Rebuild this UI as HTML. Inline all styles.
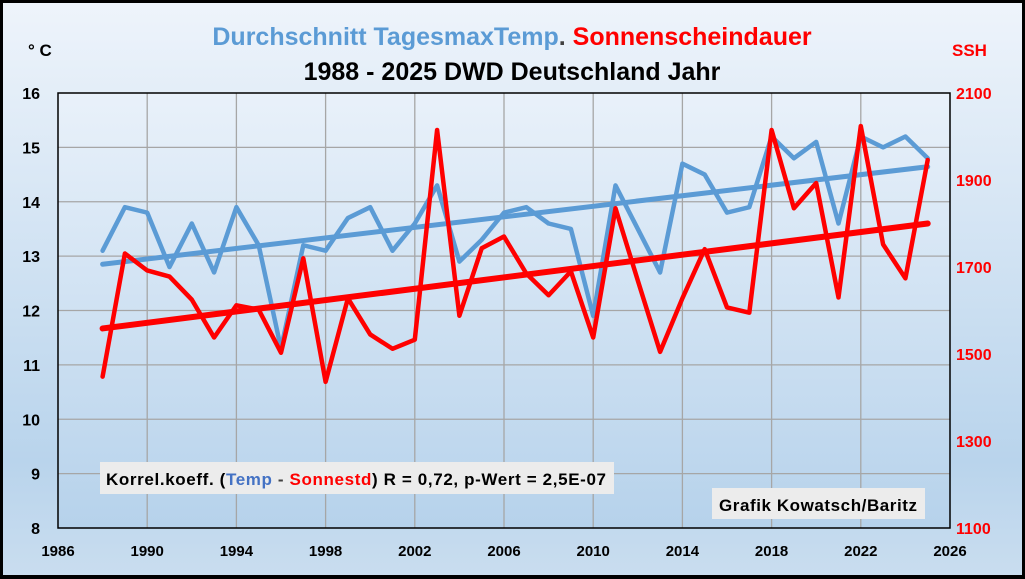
<!DOCTYPE html>
<html><head><meta charset="utf-8"><style>
html,body{margin:0;padding:0;width:1025px;height:579px;overflow:hidden;background:#000}
svg{display:block}
text{font-family:"Liberation Sans Narrow","Liberation Sans",sans-serif;font-weight:bold}
</style></head><body>
<svg id="chart" width="1025" height="579" viewBox="0 0 1025 579">
<defs>
<linearGradient id="outer" x1="0" y1="0" x2="0" y2="1"><stop offset="0" stop-color="#eef4fb"/><stop offset="0.8" stop-color="#b9d4ec"/><stop offset="1" stop-color="#c9ddef"/></linearGradient>
<linearGradient id="plot" x1="0" y1="0" x2="0" y2="1"><stop offset="0" stop-color="#e9f1fa"/><stop offset="1" stop-color="#b6d2eb"/></linearGradient>
</defs>
<rect x="3" y="3" width="1019" height="572" fill="url(#outer)"/>
<rect x="58" y="93" width="892" height="435" fill="url(#plot)"/>
<g id="grid"></g>
<rect x="58" y="93" width="892" height="435" fill="none" stroke="#000" stroke-width="1.5"/>
<g id="axes"></g>
<g id="series"></g>
<text x="512" y="45" text-anchor="middle" font-size="25"><tspan fill="#5b9bd5">Durchschnitt TagesmaxTemp</tspan><tspan fill="#404040">. </tspan><tspan fill="#ff0000">Sonnenscheindauer</tspan></text>
<text x="512" y="80" text-anchor="middle" font-size="25" fill="#000">1988 - 2025 DWD Deutschland Jahr</text>
<text x="28" y="56" font-size="17" fill="#000">° C</text>
<text x="952" y="56" font-size="17" fill="#ff0000">SSH</text>
<g>
<rect x="100" y="462" width="514" height="32" fill="#ececec"/>
<text x="106" y="485" font-size="17" fill="#000" textLength="500" lengthAdjust="spacing">Korrel.koeff. (<tspan fill="#4472c4">Temp</tspan><tspan fill="#404040"> - </tspan><tspan fill="#ff0000">Sonnestd</tspan>) R = 0,72, p-Wert = 2,5E-07</text>
</g>
<g>
<rect x="712" y="488" width="213" height="31" fill="#ececec"/>
<text x="719" y="511" font-size="17" fill="#000" textLength="198" lengthAdjust="spacing">Grafik Kowatsch/Baritz</text>
</g>
</svg>
<script>
const years=[1988,1989,1990,1991,1992,1993,1994,1995,1996,1997,1998,1999,2000,2001,2002,2003,2004,2005,2006,2007,2008,2009,2010,2011,2012,2013,2014,2015,2016,2017,2018,2019,2020,2021,2022,2023,2024,2025];
const tempValues=[13.1,13.9,13.8,12.8,13.6,12.7,13.9,13.2,11.3,13.2,13.1,13.7,13.9,13.1,13.6,14.3,12.9,13.3,13.8,13.9,13.6,13.5,11.9,14.3,13.5,12.7,14.7,14.5,13.8,13.9,15.2,14.8,15.1,13.6,15.2,15.0,15.2,14.8];
const sunValues=[1448,1731,1692,1678,1625,1538,1612,1602,1503,1720,1436,1628,1545,1512,1533,2015,1588,1743,1770,1685,1635,1690,1538,1835,1669,1505,1628,1741,1607,1595,2015,1835,1893,1630,2024,1752,1674,1946];
const xTicks=[1986,1990,1994,1998,2002,2006,2010,2014,2018,2022,2026];
const leftTicks=[8,9,10,11,12,13,14,15,16];
const rightTicks=[1100,1300,1500,1700,1900,2100];
const NS='http://www.w3.org/2000/svg';
const X0=58,X1=950,Y0=528,Y1=93;
const xs=v=>X0+(v-1986)/40*(X1-X0);
const yl=v=>Y0-(v-8)/8*(Y0-Y1);
const yr=v=>Y0-(v-1100)/1000*(Y0-Y1);
function mk(tag,attrs,parent){const e=document.createElementNS(NS,tag);for(const k in attrs)e.setAttribute(k,attrs[k]);parent.appendChild(e);return e;}
const grid=document.getElementById('grid'),axes=document.getElementById('axes'),series=document.getElementById('series');
xTicks.forEach(t=>{
 const x=xs(t);
 if(t>1986&&t<2026){const l=mk('line',{x1:x,x2:x,y1:Y1,y2:Y0,stroke:'#a6a6a6','stroke-width':1.3},grid);
 
 }
 const tx=mk('text',{x:x,y:556,'text-anchor':'middle','font-size':15,fill:'#000'},axes);tx.textContent=t;
 
 
});
leftTicks.forEach(t=>{
 const y=yl(t);
 if(t>8&&t<16){const l=mk('line',{x1:X0,x2:X1,y1:y,y2:y,stroke:'#a6a6a6','stroke-width':1.3},grid);
 
 }
 const tx=mk('text',{x:40,y:y+6,'text-anchor':'end','font-size':16,fill:'#000'},axes);tx.textContent=t;
 
 
});
rightTicks.forEach(t=>{
 const tx=mk('text',{x:956,y:yr(t)+6,'font-size':16,fill:'#ff0000'},axes);tx.textContent=t;
 
 
});
function fit(v){const n=years.length;const mx=years.reduce((a,b)=>a+b)/n,my=v.reduce((a,b)=>a+b)/n;let sxy=0,sxx=0;years.forEach((x,i)=>{sxy+=(x-mx)*(v[i]-my);sxx+=(x-mx)**2});const b=sxy/sxx;return x=>my+b*(x-mx);}
function line(vals,ys,color,w,name){
 const p=mk('polyline',{points:years.map((y,i)=>xs(y)+','+ys(vals[i])).join(' '),fill:'none',stroke:color,'stroke-width':w,'stroke-linejoin':'round','stroke-linecap':'round'},series);
 
 
}
function trend(vals,ys,color,w,name){
 const f=fit(vals);const a=years[0],b=years[years.length-1];
 const l=mk('line',{x1:xs(a),y1:ys(f(a)),x2:xs(b),y2:ys(f(b)),stroke:color,'stroke-width':w,'stroke-linecap':'round'},series);
 
 
}
line(tempValues,yl,'#5b9bd5',4.5,'temperature-line');
trend(tempValues,yl,'#5b9bd5',5,'temperature-trend');
line(sunValues,yr,'#ff0000',4.5,'sunshine-line');
trend(sunValues,yr,'#ff0000',6,'sunshine-trend');
</script>
</body></html>
